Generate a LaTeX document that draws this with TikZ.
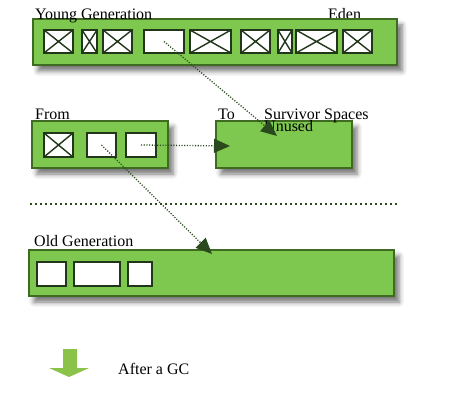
\documentclass[tikz,border=0pt]{standalone}
\usepackage{fontspec}
\setmainfont{Liberation Serif}
\usepackage{tikz}
\usetikzlibrary{arrows.meta,calc,positioning,shadows.blur}
\definecolor{heapgreen}{HTML}{7EC850}
\definecolor{heapborder}{HTML}{3F6A22}
\definecolor{celldark}{HTML}{22361A}
\definecolor{arrowdark}{HTML}{2A4A1E}
\definecolor{gcgreen}{HTML}{8BC34A}

\begin{document}
\begin{tikzpicture}[x=1pt,y=-1pt,
  band/.style={draw=heapborder,line width=1.2pt,fill=heapgreen,inner sep=0pt,
    blur shadow={shadow xshift=5pt,shadow yshift=-6pt,shadow blur radius=5pt,shadow opacity=55}},
  cell/.style={draw=celldark,line width=1.4pt,fill=white,inner sep=0pt,minimum height=23pt},
  crossed/.style={cell,path picture={
    \draw[celldark,line width=1.4pt] (path picture bounding box.north west) -- (path picture bounding box.south east)
      (path picture bounding box.south west) -- (path picture bounding box.north east);}},
  lbl/.style={anchor=base west,inner sep=0pt,font=\fontsize{16}{16}\selectfont},
  move/.style={arrowdark,line width=1.3pt,dash pattern=on 1.1pt off 1.6pt,
    -{Triangle[length=16pt,width=14pt,sep=0pt]}}]
  \useasboundingbox (0,0) rectangle (461,401);
  % Eden sits behind the young band
  \node[lbl] (eden) at (328,20) {Eden};
  % generations
  \node[band,minimum width=364pt,minimum height=46pt] (young) at (215,42) {};
  \node[band,minimum width=136pt,minimum height=47pt] (from) at (100,144.5) {};
  \node[band,minimum width=136pt,minimum height=47pt] (to) at (284,144.5) {};
  \node[band,minimum width=365pt,minimum height=46pt] (old) at (211.5,273) {};
  % young generation objects
  \node[crossed,minimum width=29pt] (y1) at (58.5,41.5) {};
  \node[crossed,minimum width=15pt] (y2) at (89.5,41.5) {};
  \node[crossed,minimum width=29pt] (y3) at (117.5,41.5) {};
  \node[cell,minimum width=40pt] (y4) at (164,41.5) {};
  \node[crossed,minimum width=41pt] (y5) at (210.5,41.5) {};
  \node[crossed,minimum width=29pt] (y6) at (255.5,41.5) {};
  \node[crossed,minimum width=14pt] (y7) at (285,41.5) {};
  \node[crossed,minimum width=41pt] (y8) at (316.5,41.5) {};
  \node[crossed,minimum width=29pt] (y9) at (357.5,41.5) {};
  % from space objects
  \node[crossed,minimum width=29pt,minimum height=24pt] (f1) at (58.5,145) {};
  \node[cell,minimum width=29pt,minimum height=24pt] (f2) at (101.5,145) {};
  \node[cell,minimum width=30pt,minimum height=24pt] (f3) at (141,145) {};
  % old generation objects
  \node[cell,minimum width=29pt,minimum height=24pt] (o1) at (51.5,274) {};
  \node[cell,minimum width=46pt,minimum height=24pt] (o2) at (97,274) {};
  \node[cell,minimum width=24pt,minimum height=24pt] (o3) at (140,274) {};
  % labels
  \node[lbl] (younglbl) at (35,20) {Young Generation};
  \node[lbl] (fromlbl) at (35,120) {From};
  \node[lbl] (tolbl) at (218,120) {To};
  \node[lbl] (survlbl) at (264,120) {Survivor Spaces};
  \node[lbl] (unused) at (264,132) {Unused};
  \node[lbl] (oldlbl) at (34,247) {Old Generation};
  \node[lbl] (gclbl) at (118,374) {After a GC};
  % copying
  \coordinate (totip) at (277,136);
  \coordinate (survtip) at (230,146);
  \coordinate (oldtip) at (212,254);
  \draw[move] (y4.center) -- (totip);
  \draw[move] (f3.center) -- (survtip);
  \draw[move] (f2.center) -- (oldtip);
  % divider
  \coordinate (divl) at (30,204);
  \coordinate (divr) at (397,204);
  \draw[arrowdark,line width=2.4pt,dash pattern=on 2.4pt off 2.6pt] (divl) -- (divr);
  % gc arrow
  \fill[gcgreen] (63,349) -- (77,349) -- (77,368) -- (89,368) -- (69,377) -- (49,368) -- (63,368) -- cycle;
\end{tikzpicture}
\end{document}
